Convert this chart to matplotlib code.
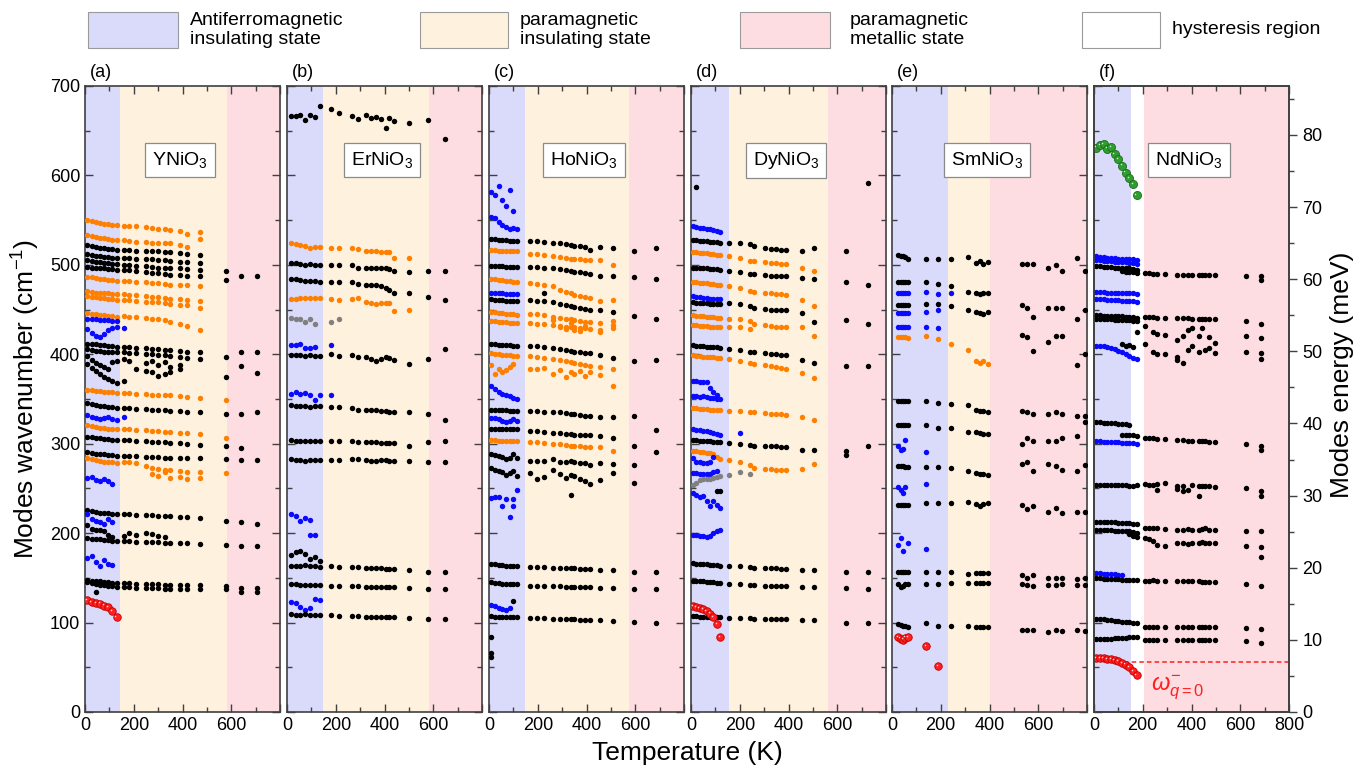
import numpy as np
import matplotlib
matplotlib.use("Agg")
import matplotlib.pyplot as plt
from matplotlib.ticker import MultipleLocator
from matplotlib.patches import Rectangle
from matplotlib.transforms import offset_copy

plt.rcParams['font.family'] = ['Liberation Sans', 'DejaVu Sans']
plt.rcParams['mathtext.fontset'] = 'custom'
plt.rcParams['mathtext.rm'] = 'Liberation Sans'
plt.rcParams['mathtext.it'] = 'Liberation Sans:italic'

# ---------------- data ----------------
# each mode: (kind, values at T_LO, values at T_MID, values at T_HI), wavenumber in cm-1
# kind: common = black, insul = orange, afm = blue, extra = grey, soft = red, amplitude = green

# (a) YNiO3
YN_T_LO = [10, 27, 45, 62, 78, 96, 112, 130]
YN_T_MID = [160, 180, 210, 250, 275, 300, 330, 350, 390, 420, 470]
YN_T_HI = [577, 640, 705]
YN_MODES = [
    ('insul', [550, 549, 548, 547, 546, 546, 545, 545], [544, 543, 543, 542, 541, 540, 540, 539, 538, 534, 537], []),
    ('insul', [533, 532, 531, 530, 530, 529, 528, 528], [528, 527, 526, 526, 525, 525, 524, 524, 522, 520, 529], []),
    ('common', [522, 521, 520, 519, 519, 518, 518, 517], [517, 517, 516, 516, 515, 515, 514, 514, 513, 512, 511], []),
    ('common', [512, 511, 510, 510, 509, 509, 508, 508], [508, 508, 507, 506, 506, 505, 505, 504, 503, 503, 502], []),
    ('common', [505, 504, 503, 503, 502, 502, 501, 501], [500, 500, 499, 499, 498, 497, 497, 496, 496, 495, 494], [493, 487, 487]),
    ('common', [498, 497, 497, 496, 496, 495, 495, 494], [494, 494, 493, 492, 491, 491, 490, 489, 489, 488, 487], [483]),
    ('insul', [486, 486, 485, 484, 484, 483, 483, 482], [482, 482, 481, 481, 480, 480, 479, 478, 478, 477, 476], []),
    ('insul', [471, 470, 469, 469, 468, 468, 467, 467], [467, 466, 466, 465, 464, 464, 463, 462, 462, 461, 460], []),
    ('insul', [465, 464, 464, 463, 463, 462, 462, 461], [461, 461, 460, 459, 458, 458, 457, 456, 455, 455, 452], []),
    ('insul', [446, 445, 445, 444, 444, 443, 443, 442], [443, 442, 442, 441, 440, 440, 438, 436, 434, 432, 427], []),
    ('afm', [440, 439, 439, 438, 438, 438, 437, 437], [], []),
    ('afm', [428, 424, 421, 419, 423, 427, 429, 430], [429], []),
    ('common', [412, 411, 411, 410, 410, 409, 409, 408], [408, 408, 407, 407, 406, 406, 405, 405, 404, 403, 402], [397, 403, 403]),
    ('common', [406, 405, 404, 404, 403, 403, 402, 402], [402, 401, 401, 400, 400, 399, 399, 398, 397, 396, 395], [375, 387, 379]),
    ('common', [398, 394, 390, 388, 386, 384, 391, 393], [395, 393, None, 390, 392, 388, 391, 386, 388], []),
    ('common', [389, 385, 381, 378, 375, 372, 370, 368], [370, None, 383, 381, 380, 376, 378, 380, 383], []),
    ('insul', [360, 360, 359, 359, 358, 358, 358, 357], [357, 357, 356, 356, 355, 355, 354, 354, 353, 352, 351], [349]),
    ('common', [345, 344, 343, 342, 342, 341, 341, 340], [340, 340, 339, 339, 338, 338, 338, 337, 337, 336, 336], [333, 333, 336]),
    ('afm', [332, 330, 329, 328, 329, 330, 328, 327], [330], []),
    ('insul', [321, 320, 319, 318, 318, 317, 317, 316], [316, 316, 315, 315, 314, 314, 313, 313, 312, 312, 311], [306]),
    ('common', [308, 307, 306, 306, 305, 305, 304, 304], [304, 304, 303, 303, 302, 302, 302, 301, 301, 300, 299], [297, 295]),
    ('common', [291, 290, 289, 288, 288, 287, 287, 286], [286, 286, 286, 285, 285, 285, 284, 284, 284, 284, 284], [283, 282, 282]),
    ('insul', [284, 283, 282, 281, 280, 280, 279, 278], [279, 279, 278, 275, 273, 272, 271, 271, 270, 268, 268], [267]),
    ('insul', [], [None, None, None, None, 266, 264, 268, 262, 263, 261, 262], []),
    ('afm', [262, 263, 259, 258, 260, 258, 255], [], []),
    ('common', [226, 225, 224, 223, 222, 222, 221, 221], [221, 221, 220, 220, 220, 219, 219, 219, 218, 218, 217], [214, 212, 210]),
    ('afm', [221, 216, 214, 212, 210, 216, 213], [], []),
    ('common', [209, 205, 203, 204, 202, 198, 196], [197, 200, 198, 200, 199, 197, 196], []),
    ('common', [195, 194, 193, 193, 192, 192, 191, 191], [191, 191, 190, 190, 190, 190, 189, 189, 189, 189, 188], [187, 186, 186]),
    ('afm', [172, 175, 168, 163, 170, 165, 164], [], []),
    ('common', [148, 147, 146, 146, 145, 145, 144, 144], [144, 144, 143, 143, 143, 143, 142, 142, 142, 142, 142], [141, 139, 139]),
    ('common', [145, 144, 143, 142, 142, 141, 141, 140], [140, 140, 139, 139, 139, 139, 138, 138, 138, 138, 138], [138, 134, 134]),
    ('common', [None, None, 134], [], []),
    ('soft', [125, 123, 122, 121, 119, 117, 113, 106], [], []),
]

# (b) ErNiO3
ER_T_LO = [15, 35, 55, 75, 95, 115, 135]
ER_T_MID = [180, 215, 265, 290, 325, 345, 365, 385, 405, 420, 440, 500]
ER_T_HI = [580, 648]
ER_MODES = [
    ('common', [666, 667, 668, 662, 668, 665, 678], [674, 670, 667, 663, 668, 664, 665, 663, 653, 664, 661, 659], [662, 641]),
    ('insul', [524, 523, 522, 521, 519, 520, 520], [519, 519, 519, 518, 516, 515, 515, 514, 514, 514, 508, 508], []),
    ('common', [502, 502, 501, 500, 501, 500, 500], [500, 500, 500, 497, 497, 496, 496, 496, 496, 495, 493, 492], [493, 493]),
    ('common', [484, 484, 483, 482, 482, 482, 481], [481, 481, 481, 479, 478, 477, 478, 476, 474, 472, 468, 469], [464, 461]),
    ('insul', [462, 462, 463, 463, 463, 463, 463], [462, 461, 462, 463, 458, 457, 456, 457, 457, 457, 448, 450], []),
    ('extra', [441, 440, 439, 436, 439, 434], [436, 440], []),
    ('afm', [410, 410, 411, 407, 407, 408], [410], []),
    ('common', [399, 399, 399, 398, 399, 398, 398], [400, 398, 399, 397, 397, 395, 393, 395, 397, 396, 394, 389], [395, 406]),
    ('afm', [356, 358, 356, 357, 355, 349, 354], [354], []),
    ('common', [343, 342, 342, 342, 341, 342, 342], [341, 341, 340, 338, 338, 338, 338, 337, 337, 336, 336, 336], [333, 327]),
    ('common', [304, 303, 303, 303, 303, 303, 303], [303, 303, 303, 302, 302, 302, 302, 301, 301, 301, 301, 298], [302, 303]),
    ('common', [283, 282, 282, 281, 282, 282, 282], [282, 282, 283, 283, 282, 281, 281, 282, 282, 281, 281, 281], [280, 280]),
    ('afm', [221, 219, 214, 217, 215], [], []),
    ('afm', [None, None, None, None, 198, 198], [], []),
    ('common', [176, 179, 180, 177, 171, 173, 169], [], []),
    ('common', [163, 163, 163, 164, 163, 163, 162], [163, 162, 162, 162, 161, 161, 161, 161, 160, 160, 160, 159], [157, 156]),
    ('common', [143, 143, 142, 142, 142, 142, 142], [141, 141, 141, 141, 140, 140, 140, 140, 140, 140, 140, 139], [138, 137]),
    ('afm', [123, 122, 117, 114, 116, 126, 125], [], []),
    ('common', [110, 109, 109, 110, 109, 108, 108], [108, 107, 107, 107, 106, 106, 106, 106, 106, 106, 106, 105], [104, 104]),
]

# (c) HoNiO3
HO_T_LO = [8, 25, 40, 55, 70, 85, 100, 115]
HO_T_MID = [168, 196, 227, 264, 290, 315, 335, 350, 375, 395, 415, 455, 510]
HO_T_HI = [595, 684]
HO_MODES = [
    ('afm', [581, 578, 588, 572, 566, 584, 560], [], []),
    ('afm', [553, 552, 548, 545, 542, 540, 541, 540], [], []),
    ('common', [529, 529, 528, 528, 528, 527, 527, 527], [527, 527, 526, 525, 524, 523, 522, 521, 521, 520, 517, 520, 519], [516, 519]),
    ('insul', [517, 517, 516, 516, 516, 515, 515, 515], [512, 512, 511, 510, 509, 508, 507, 506, 506, 505, 505, 505, 500], []),
    ('common', [499, 499, 499, 499, 498, 498, 498, 498], [498, 498, 497, 496, 495, 494, 493, 492, 492, 491, 490, 488, 488], [486, 484]),
    ('insul', [484, 484, 483, 483, 482, 482, 481, 481], [480, 479, 478, 476, 472, 470, 468, 466, 465, 464, 463, 460, 461], []),
    ('common', [], [None, None, 468], []),
    ('afm', [469, 469, 468, 468, 467, 467, 467, 467], [], []),
    ('common', [462, 461, 461, 461, 460, 460, 460, 460], [461, 460, 460, 458, 456, 455, 454, 453, 452, 451, 450, 449, 447], [443, 440]),
    ('insul', [447, 447, 446, 446, 445, 445, 445, 444], [445, 445, 444, 442, 441, 440, 439, 438, 437, 436, 436, 435, 433], []),
    ('insul', [437, 437, 436, 436, 436, 435, 435, 435], [435, 434, 434, 433, 432, 431, 430, 430, 429, 429, 428, 427, 429], []),
    ('insul', [], [None, None, None, 438, 430, 428, 435, 427, 426, 432, None, 425, 437], []),
    ('common', [411, 411, 410, 410, 410, 410, 409, 409], [409, 409, 408, 407, 406, 405, 404, 403, 402, 401, 401, 399, 396], [393, 394]),
    ('insul', [401, 400, 400, 399, 399, 399, 398, 398], [398, 397, 396, 395, 394, 392, 391, 390, 389, 388, 387, 386, 383], []),
    ('insul', [388, 378, 384, 380, 382, 386, 389], [384, 383, 385, 378, 382, 375, 380, 378, 381, 376, 380, 377, 364], []),
    ('afm', [364, 361, 358, 356, 355, 353, 351, 350], [], []),
    ('common', [338, 338, 338, 338, 338, 337, 337, 337], [337, 337, 336, 335, 335, 334, 333, 333, 332, 331, 331, 330, 330], [331]),
    ('afm', [329, 329, 328, 325, 324, 325, 328, 325], [], []),
    ('common', [316, 316, 316, 316, 316, 316, 316, 316], [314, 314, 313, 312, 312, 311, 311, 310, 310, 310, 310, 309, 306], [None, 315]),
    ('insul', [304, 304, 303, 303, 303, 303, 303, 303], [302, 302, 301, 300, 300, 299, 298, 298, 297, 296, 296, 296, 292], []),
    ('common', [], [], [297, 291]),
    ('common', [288, 287, 286, 285, 283, 284, 288, 284], [281, 281, 281, 283, 280, 279, 281, 280, 278, 278, 276, 278, 277], [276]),
    ('common', [273, 271, 270, 268, 265, 267, 270, 264], [267, 261, 263, 271, 266, 262, 265, 264, 261, 258, 255, 259, 267], [256]),
    ('common', [], [None, None, None, None, None, None, 243], []),
    ('afm', [239, 240, 240, None, 238, None, 238, 248], [], []),
    ('afm', [None, None, None, 230, None, 218, 230], [], []),
    ('common', [165, 165, 164, 164, 163, 163, 163, 163], [162, 162, 162, 161, 161, 161, 161, 161, 160, 160, 160, 159, 159], [157, 156]),
    ('common', [145, 144, 144, 143, 143, 143, 143, 143], [141, 141, 141, 141, 141, 140, 140, 140, 140, 140, 140, 139, 139], [138, 137]),
    ('afm', [120, 118, 116, 115, 114, 116], [], []),
    ('common', [None, None, None, None, None, None, 124], [], []),
    ('common', [107, 106, 106, 106, 106, 106, 106, 106], [105, 105, 105, 104, 104, 104, 104, 104, 103, 103, 103, 103, 102], [101, 100]),
    ('common', [84], [], []),
    ('common', [66], [], []),
    ('common', [62], [], []),
]

# (d) DyNiO3
DY_T_LO = [8, 22, 36, 50, 64, 78, 92, 106, 120]
DY_T_MID = [157, 200, 240, 260, 305, 330, 350, 370, 390, 455, 506]
DY_T_HI = [636, 726]
DY_MODES = [
    ('common', [None, 587], [], [None, 592]),
    ('afm', [543, 542, 541, 541, 540, 540, 539, 538, 537], [], []),
    ('common', [528, 528, 527, 527, 527, 526, 526, 526, 525], [525, 524, 523, 521, 519, 518, 518, 517, 517, 516, 519], [516]),
    ('insul', [514, 514, 513, 513, 513, 512, 512, 511, 511], [510, 508, 504, 504, 503, 502, 502, 501, 501, 496, 493], []),
    ('common', [497, 497, 496, 496, 496, 495, 495, 495, 494], [493, 492, 490, 490, 489, 488, 488, 487, 487, 485, 484], [481, 478]),
    ('insul', [481, 481, 480, 480, 480, 479, 479, 478, 478], [476, 474, 471, 470, 469, 468, 467, 467, 466, 461, 454], []),
    ('afm', [465, 464, 464, 463, 463, 462, 462, 462, 462], [], []),
    ('common', [458, 457, 457, 457, 457, 456, 456, 456, 456], [457, 456, 454, 452, 451, 450, 450, 449, 449, 446, 436], [438, 434]),
    ('insul', [444, 443, 443, 443, 442, 442, 442, 441, 441], [440, 439, 437, 434, 433, 432, 431, 431, 430, 430, 420], []),
    ('insul', [433, 433, 432, 432, 432, 431, 431, 431, 430], [431, 430, 428], []),
    ('common', [410, 409, 409, 409, 408, 408, 408, 408, 407], [406, 405, 403, 402, 401, 400, 400, 399, 399, 394, 390], [387, 387]),
    ('insul', [399, 398, 398, 397, 397, 397, 397, 396, 396], [395, 393, 390, 389, 388, 387, 386, 385, 384, 379, 374], []),
    ('afm', [370, 370, 369, 369, 369, 362, 358, 355], [], []),
    ('afm', [353, 353, 352, 353, 352, 351, 351, 350, 350], [], []),
    ('insul', [340, 340, 339, 339, 339, 338, 338, 338, 338], [337, 337, 335, 335, 334, 333, 333, 333, 332, 330, 327], []),
    ('afm', [316, 315, 315, 314, 314, 313, 312, 311, 310], [None, 312], []),
    ('common', [304, 304, 303, 303, 303, 303, 302, 302, 302], [301, 300, 299, 298, 298, 297, 297, 296, 296, 293, 293], [292, 298]),
    ('common', [], [], [287]),
    ('insul', [292, 292, 291, 291, 290, 290, 289, 285, 283], [282, 280, 276, 273, 272, 272, 271, 271, 271, 272, 277], []),
    ('afm', [284, 280, 279, 278, 278, 279, 285], [], []),
    ('afm', [267, 267, 266, 266, 266, 266, 268, 270], [], []),
    ('extra', [254, 256, 259, 260, 260, 261, 262, 263, 264], [265, 268, 266], []),
    ('common', [None, None, None, None, None, None, None, 247, 247], [], []),
    ('afm', [245, 243, 240, 242, 236, 230, 236, 231, 228], [], []),
    ('afm', [198, 198, 197, 197, 196, 197, 200, 202, 204], [], []),
    ('common', [167, 166, 166, 165, 165, 164, 164, 164, 163], [163, 163, 162, 161, 161, 161, 161, 160, 160, 159, 159], [156, 156]),
    ('common', [147, 147, 146, 146, 145, 145, 145, 144, 144], [143, 143, 142, 142, 141, 141, 141, 141, 141, 140, 140], [139, 138]),
    ('common', [107, 107, 106, 106, 106, 106, 106, 106, 106], [105, 105, 105, 104, 104, 104, 104, 104, 104, 103, 103], [100, 100]),
    ('soft', [118, 117, 116, 115, 113, 110, 106, 98, 84], [], []),
]

# (e) SmNiO3
SM_T_LO = [25, 35, 45, 55, 65, 140, 188]
SM_T_MID = [240, 310, 345, 360, 375, 395]
SM_T_HI = [535, 555, 578, 641, 671, 699, 758, 790]
SM_MODES = [
    ('common', [511, 510, 510, 509, 506, 507, 507], [507, 509, 502, 504, 501, 503], [501, 501, 501, 496, 500, 493, 508, 493]),
    ('common', [481, 481, 481, 481, 481, 481, 479], [476, 470, 469, 467, 468, 469], []),
    ('afm', [468, 468, 468, 468, 468, 470, 467], [468], []),
    ('common', [455, 455, 455, 455, 455, 456, 456], [454, 449, 447, 446, 445, 447], [455, 452, 442, 452, 452, 452, 439, 449]),
    ('afm', [446, 446, 446, 446, 446, 447, 449], [], []),
    ('afm', [430, 430, 430, 430, 430, 430, 429], [], []),
    ('insul', [419, 419, 419, 419, 418, 420, 417], [412, 405, 392, 390, 392, 389], []),
    ('common', [], [], [422, 419, 404, 414, 421, 421, 388, 400]),
    ('common', [348, 348, 348, 348, 348, 348, 346], [344, 343, 338, 337, 337, 336], [337, 335, 333, 333, 336, 333, 331, 331]),
    ('common', [321, 321, 321, 321, 321, 321, 318], [318, 313, 313, 312, 311, 311], [300, 306, 303, 303, 303, 306, 309, 324]),
    ('afm', [297, 293, 294, 304, None, 291], [], []),
    ('common', [275, 275, 275, 274, 274, 274, 274], [273, 270, 267, 266, 266, 265], [277, 280, 270, 277, 275, 271, 270, 276]),
    ('afm', [252, 248, 245, 252, None, 255], [], []),
    ('common', [232, 232, 231, 231, 232, 234, 234], [234, 235, 233, 230, 233, 234], [231, 227, 230, 224, 228, 222, 224, 224]),
    ('afm', [187, 195, 180, None, 189, 182], [], []),
    ('common', [157, 156, 156, 156, 156, 156, 156], [156, 154, 155, 155, 155, 155], [153, 150, 153, 150, 150, 150, 149, 150]),
    ('common', [143, 140, 141, 143, 143, 143, 143], [144, 144, 144, 144, 144, 144], [143, 142, 141, 142, 142, 143, 142, 142]),
    ('common', [98, 97, 96, 96, 95, 100, 96], [96, 96, 95, 95, 95, 95], [92, 92, 92, 90, 92, 91, 92, 91]),
    ('soft', [84, 82, 81, 83, 84, 74, 51], [], []),
]

# (f) NdNiO3 (no paramagnetic insulating phase)
ND_T_LO = [10, 25, 40, 55, 70, 85, 100, 115, 130, 145, 160, 175]
ND_T_MID = []
ND_T_HI = [210, 225, 240, 258, 290, 340, 365, 385, 400, 430, 445, 455, 470, 495, 622, 684]
ND_MODES = [
    ('amplitude', [631, 634, 635, 630, 632, 624, 618, 611, 603, 597, 590, 578], [], []),
    ('afm', [510, 509, 509, 508, 508, 508, 507, 507, 507, 506, 506, 505], [], []),
    ('afm', [505, 505, 504, 504, 504, 503, 503, 503, 503, 502, 502, 501], [], []),
    ('common', [499, 499, 498, 498, 498, 497, 497, 497, 497, 496, 495, 494], [],
     [491, 491, 490, 490, 490, 489, 489, 489, 489, 489, 489, 489, 489, 489, 487, 487]),
    ('common', [None, None, None, None, None, None, None, 493, 492, 492, 492, 491], [],
     [None, None, None, None, None, None, None, None, None, None, None, None, None, None, None, 483]),
    ('afm', [470, 470, 470, 469, 469, 469, 469, 468, 468, 468, 468, 467], [], []),
    ('afm', [462, 462, 462, 461, 461, 461, 461, 460, 460, 460, 460, 459], [], []),
    ('common', [444, 444, 443, 443, 443, 443, 443, 443, 442, 442, 442, 441], [],
     [442, 442, 442, 441, 441, 441, 441, 441, 440, 440, 440, 440, 440, 440, 437, 434]),
    ('common', [439, 439, 439, 439, 439, 438, 438, 438, 438, 438, 437, 437], [], []),
    ('common', [None, None, None, None, None, None, None, None, None, None, None, 425], [],
     [432, None, 425, 423, 422, 416, 421, 427, 429, 420, 429, None, 419, 413, 420, 418]),
    ('common', [None, None, None, None, None, None, None, 412, 409, 410, 408], [],
     [411, None, 402, 400, 400, 397, 390, 405, 409, 403, None, 405, 407, 401, 403, 401]),
    ('common', [], [], [None, None, None, None, None, 394, None, None, None, None, None, None, None, None, None, 395]),
    ('afm', [409, 409, 409, 408, 407, 406, 404, 402, 400, 398, 396, 395], [], []),
    ('common', [324, 324, 323, 323, 323, 323, 322, 322, 322, 321], [], []),
    ('common', [None, None, None, None, None, None, None, 310, 310, 310, 310, 309], [],
     [306, 306, 306, 305, 305, 304, 304, 303, 303, 303, 303, 303, 302, 302, 300, 298]),
    ('common', [], [], [None, None, None, None, None, None, None, None, None, None, None, None, None, None, None, 293]),
    ('afm', [303, 303, 302, 302, 302, 302, 302, 301, 301, 301, 301, 300], [], []),
    ('common', [254, 254, 254, 254, 254, 254, 254, 254, 254, 253, 253, 254], [],
     [255, 254, 254, 255, 256, 253, 253, 248, 254, 253, 253, 253, 253, 252, 251, 247]),
    ('common', [], [], [None, None, None, 248, None, 249, 247, None, None, 241, None, None, None, None, None, 242]),
    ('common', [212, 212, 212, 212, 212, 212, 211, 211, 211, 211, 210, 210], [],
     [206, 206, 206, 206, 205, 204, 203, 205, 203, 204, 205, 206, 204, 204, 202, 202]),
    ('common', [203, 203, 203, 203, 203, 202, 202, 202, 202, 202, 201, 200], [],
     [195, 193, 191, 187, 186, 189, 189, 188, 189, 189, 190, 189, 189, 189, 186, 185]),
    ('common', [None, None, None, None, None, None, None, None, None, 199, 197, 196], [],
     [None, None, None, None, None, None, None, None, None, None, None, None, None, None, None, 173]),
    ('afm', [155, 155, 154, 154, 154, 154, 153, 153], [], []),
    ('common', [150, 150, 149, 149, 149, 149, 149, 148, 148, 148, 148, 148], [],
     [147, 147, 148, 147, 147, 146, 146, 146, 146, 146, 145, 145, 145, 145, 143, 141]),
    ('common', [104, 104, 104, 103, 103, 102, 102, 101, 101, 101, 100, 100], [],
     [95, 95, 95, 95, 95, 95, 95, 95, 95, 95, 95, 95, 95, 95, 94, 93]),
    ('common', [82, 82, 82, 82, 82, 83, 83, 83, 83, 84, 84, 84], [],
     [81, 81, 81, 80, 81, 80, 81, 81, 80, 81, 80, 80, 80, 80, 79, 77]),
    ('soft', [60, 60, 60, 59, 59, 58, 57, 55, 53, 50, 46, 41], [], []),
]

PANEL_TAGS = ['(a)', '(b)', '(c)', '(d)', '(e)', '(f)']
COMPOUNDS = ['YNiO$_3$', 'ErNiO$_3$', 'HoNiO$_3$', 'DyNiO$_3$', 'SmNiO$_3$', 'NdNiO$_3$']
T_NEEL = [145, 148, 148, 154, 230, 150]
T_MI = [582, 582, 573, 564, 402, 205]
HYSTERESIS = [False, False, False, False, False, True]
SOFT_MODE_LEVEL = 56     # cm-1, dashed line in (f)
CM_PER_MEV = 8.0655

LEGEND_LABELS = ['Antiferromagnetic\ninsulating state', 'paramagnetic\ninsulating state',
                 'paramagnetic\nmetallic state', 'hysteresis region']

# ---------------- style ----------------
AFM_C = '#dadafa'
PI_C = '#fef1dd'
PM_C = '#fddde2'
KIND_STYLE = {
    'common': dict(color='black', ms=3.9),
    'insul': dict(color='#ff8000', ms=3.9),
    'afm': dict(color='#0a0aff', ms=3.9),
    'extra': dict(color='#808080', ms=3.9),
    'soft': dict(mfc='#ff2020', mec='#c00000', ms=5.4, mew=0.6),
    'amplitude': dict(mfc='#2e9e2e', mec='#1b6e1b', ms=5.8, mew=0.6),
}

W, H = 1363, 772
fig = plt.figure(figsize=(W / 100, H / 100), dpi=100)

panel_left = [85, 287, 489, 691, 892, 1094]
panel_w = 195
panel_bottom = 712
panel_top = 86

datasets = [
    (YN_T_LO, YN_T_MID, YN_T_HI, YN_MODES),
    (ER_T_LO, ER_T_MID, ER_T_HI, ER_MODES),
    (HO_T_LO, HO_T_MID, HO_T_HI, HO_MODES),
    (DY_T_LO, DY_T_MID, DY_T_HI, DY_MODES),
    (SM_T_LO, SM_T_MID, SM_T_HI, SM_MODES),
    (ND_T_LO, ND_T_MID, ND_T_HI, ND_MODES),
]

for i in range(6):
    ax = fig.add_axes([panel_left[i] / W, (H - panel_bottom) / H,
                       panel_w / W, (panel_bottom - panel_top) / H])
    ax.set_xlim(0, 800)
    ax.set_ylim(0, 700)

    # phase backgrounds
    ax.axvspan(0, T_NEEL[i], color=AFM_C, lw=0, zorder=0)
    if not HYSTERESIS[i]:
        ax.axvspan(T_NEEL[i], T_MI[i], color=PI_C, lw=0, zorder=0)
    ax.axvspan(T_MI[i], 800, color=PM_C, lw=0, zorder=0)

    t_lo, t_mid, t_hi, modes = datasets[i]
    for kind, lo, mid, hi in modes:
        ts, vs = [], []
        for temps, vals in ((t_lo, lo), (t_mid, mid), (t_hi, hi)):
            for t, v in zip(temps, vals):
                if v is not None:
                    ts.append(t)
                    vs.append(v)
        if not ts:
            continue
        st = KIND_STYLE[kind]
        if kind in ('soft', 'amplitude'):
            ax.plot(ts, vs, ls='none', marker='o', zorder=4, **st)
            shine = offset_copy(ax.transData, fig=fig, x=-1.3, y=1.3, units='dots')
            ax.plot(ts, vs, ls='none', marker='o', ms=1.1, mew=0, color='white', alpha=0.8,
                    transform=shine, zorder=5)
        else:
            ax.plot(ts, vs, ls='none', marker='o', mew=0, zorder=3, **st)

    ax.text(390, 617, COMPOUNDS[i], ha='center', va='center', fontsize=14, zorder=6,
            bbox=dict(boxstyle='square,pad=0.35', fc='white', ec='#8a8a8a', lw=0.9))
    ax.text(0.025, 1.022, PANEL_TAGS[i], transform=ax.transAxes, ha='left', va='center',
            fontsize=13)

    ax.xaxis.set_major_locator(MultipleLocator(200))
    ax.xaxis.set_minor_locator(MultipleLocator(100))
    ax.yaxis.set_major_locator(MultipleLocator(100))
    ax.yaxis.set_minor_locator(MultipleLocator(50))
    ax.tick_params(which='both', direction='in', top=True, right=True, labelsize=13,
                   color='#404040', width=1.0)
    ax.tick_params(which='major', length=6)
    ax.tick_params(which='minor', length=3.5)
    if i < 5:
        ax.set_xticks([0, 200, 400, 600, 800])
        ax.set_xticklabels(['0', '200', '400', '600', ''])
    if i > 0:
        ax.tick_params(labelleft=False)
    for sp in ax.spines.values():
        sp.set_color('#404040')
        sp.set_linewidth(1.2)

    if i == 5:
        ax.plot([125, 800], [SOFT_MODE_LEVEL, SOFT_MODE_LEVEL], color='#ff2020', ls='--',
                lw=1.1, dashes=(3, 2), zorder=3)
        ax.text(232, 27, r'$\omega^{-}_{q=0}$', color='#ff2020', fontsize=17, ha='left',
                va='center', zorder=6)
        ax.tick_params(which='both', right=False)
        axr = ax.twinx()
        axr.set_ylim(0, 700 / CM_PER_MEV)
        axr.yaxis.set_major_locator(MultipleLocator(10))
        axr.yaxis.set_minor_locator(MultipleLocator(5))
        axr.tick_params(which='both', direction='out', labelsize=13, color='#404040', width=1.0)
        axr.tick_params(which='major', length=6)
        axr.tick_params(which='minor', length=3.5)
        for sp in axr.spines.values():
            sp.set_color('#404040')
            sp.set_linewidth(1.2)

fig.text(26 / W, 1 - 399 / H, 'Modes wavenumber (cm$^{-1}$)', rotation=90, ha='center',
         va='center', fontsize=19)
fig.text(1342 / W, 1 - 375 / H, 'Modes energy (meV)', rotation=90, ha='center',
         va='center', fontsize=19)
fig.text(687 / W, 1 - 753 / H, 'Temperature (K)', ha='center', va='center', fontsize=19)

# legend strip along the top
patch_x = [88, 420, 740, 1082]
patch_w = [90, 88, 90, 78]
text_x = [190, 520, 850, 1172]
patch_fc = [AFM_C, PI_C, PM_C, 'white']
for px, pw, tx, fc, lab in zip(patch_x, patch_w, text_x, patch_fc, LEGEND_LABELS):
    fig.patches.append(Rectangle((px / W, 1 - 48 / H), pw / W, 36 / H, transform=fig.transFigure,
                                 fc=fc, ec='#9a9a9a', lw=0.8))
    fig.text(tx / W, 1 - 30 / H, lab, ha='left', va='center', fontsize=14, linespacing=1.1)

fig.savefig('out.png', dpi=100)
